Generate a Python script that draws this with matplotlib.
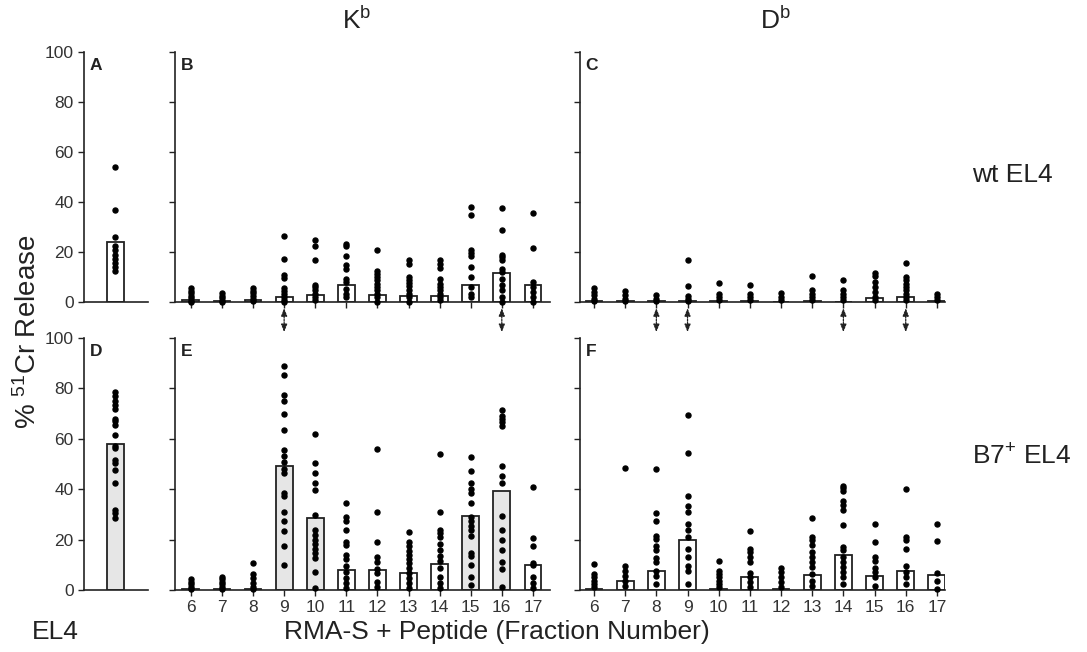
import matplotlib
matplotlib.use('Agg')
import matplotlib.pyplot as plt
import numpy as np

plt.rcParams['font.family'] = ['Liberation Sans', 'DejaVu Sans']
plt.rcParams['mathtext.fontset'] = 'custom'
plt.rcParams['mathtext.rm'] = 'Liberation Sans'
plt.rcParams['mathtext.it'] = 'Liberation Sans:italic'
plt.rcParams['mathtext.bf'] = 'Liberation Sans:bold'

# ---------------- data ----------------
fractions = [6, 7, 8, 9, 10, 11, 12, 13, 14, 15, 16, 17]
y_ticks = [0, 20, 40, 60, 80, 100]

# EL4 targets (single column panels)
a_bar = 24.0
a_points = [53.9, 36.9, 26.0, 22.3, 20.7, 19.0, 17.3, 15.6, 14.0, 12.4]
d_bar = 58.0
d_points = [78.4, 76.8, 75.0, 73.4, 72.0, 68.0, 67.0, 65.3, 61.4, 57.0, 56.4,
            51.5, 50.5, 47.5, 42.5, 31.9, 30.5, 28.5]

# wt EL4, Kb fractions
b_bars = [1.0, 0.5, 1.0, 2.0, 3.0, 6.7, 3.0, 2.4, 2.4, 7.0, 11.6, 7.0]
b_points = [
    [5.6, 4.6, 3.6, 2.6, 1.6, 0.6, 0.0],
    [3.6, 2.6, 1.6, 0.6, 0.0],
    [5.6, 4.6, 3.6, 2.4, 1.4, 0.4],
    [26.3, 17.3, 10.7, 9.7, 5.6, 4.6, 3.3, 2.0, 0.7, 0.0],
    [25.0, 22.3, 17.0, 7.0, 6.0, 4.7, 3.3, 2.0, 0.7],
    [23.3, 22.3, 18.3, 15.0, 13.3, 9.3, 8.0, 5.3, 3.3, 2.0],
    [20.7, 12.4, 11.3, 10.0, 8.7, 7.3, 6.0, 4.7, 3.3, 2.0, 0.0],
    [17.0, 15.3, 10.0, 9.0, 7.6, 6.3, 5.0, 3.3, 2.0, 0.0],
    [17.0, 15.3, 13.8, 9.3, 7.3, 6.0, 4.7, 3.3, 2.0, 0.7],
    [38.0, 34.7, 20.7, 19.6, 18.3, 14.0, 10.0, 6.0, 3.3, 2.0],
    [37.6, 28.7, 18.7, 18.0, 17.0, 13.3, 12.0, 9.3, 6.7, 4.7, 2.0, 0.0],
    [35.6, 21.7, 8.0, 6.0, 4.0, 2.0, 0.0],
]

# wt EL4, Db fractions
c_bars = [0.5, 0.4, 0.3, 0.3, 0.3, 0.3, 0.2, 0.3, 0.2, 1.6, 1.9, 0.3]
c_points = [
    [5.7, 4.0, 2.7, 1.3, 0.3],
    [4.3, 2.7, 1.3, 0.3],
    [2.7, 1.3, 0.3],
    [16.7, 6.3, 2.3, 1.3, 0.3],
    [7.6, 3.3, 2.0, 0.7],
    [6.7, 3.3, 2.0, 0.7],
    [3.7, 2.0, 0.7],
    [10.4, 4.7, 3.3, 2.0, 0.7],
    [9.0, 4.7, 3.3, 2.0, 0.7],
    [11.6, 10.4, 8.0, 6.0, 4.0, 2.0, 0.7],
    [15.6, 10.0, 8.7, 7.3, 6.0, 4.7, 3.3, 2.0, 0.7],
    [3.3, 2.0, 0.7],
]

# B7+ EL4, Kb fractions
e_bars = [0.4, 0.4, 0.4, 49.2, 28.6, 8.0, 8.0, 6.6, 10.4, 29.5, 39.2, 10.0]
e_points = [
    [4.3, 3.3, 2.3, 1.3, 0.3],
    [5.3, 4.3, 3.3, 2.3, 1.3, 0.3],
    [10.9, 6.4, 4.7, 2.7, 1.3, 0.3],
    [89.0, 85.5, 77.4, 75.1, 69.8, 63.4, 55.5, 53.2, 50.8, 47.9, 46.5, 38.6,
     37.2, 31.1, 27.4, 23.5, 17.3, 10.0],
    [61.8, 50.5, 46.5, 42.5, 39.6, 29.9, 23.7, 21.9, 19.9, 18.4, 16.2, 14.6,
     12.6, 7.3, 0.7],
    [34.6, 28.9, 27.4, 23.7, 18.9, 18.0, 14.0, 12.2, 9.6, 7.3, 4.7, 2.7, 0.7],
    [55.9, 30.9, 18.9, 13.0, 11.3, 8.2, 6.6, 3.3, 1.3],
    [22.9, 18.9, 17.3, 15.6, 14.0, 12.2, 10.6, 8.6, 6.6, 4.7, 2.7, 0.7],
    [54.1, 30.9, 23.7, 22.6, 21.0, 18.4, 16.0, 13.6, 11.7, 8.6, 5.3, 2.7, 0.7],
    [52.8, 47.1, 42.3, 39.9, 38.3, 34.6, 28.9, 27.4, 25.5, 23.7, 21.3, 14.6,
     13.6, 10.0, 5.3, 2.0],
    [71.5, 69.1, 67.8, 66.5, 65.2, 49.2, 45.2, 42.3, 29.5, 23.7, 19.9, 16.0,
     11.3, 8.2, 1.3],
    [40.8, 20.6, 17.3, 10.9, 10.0, 5.3, 2.7, 0.7],
]

# B7+ EL4, Db fractions
f_bars = [0.5, 3.7, 7.7, 20.0, 0.5, 5.0, 0.3, 6.1, 14.0, 5.7, 7.4, 6.0]
f_points = [
    [10.4, 6.4, 5.0, 3.7, 2.4, 1.1],
    [48.6, 9.7, 7.7, 5.7, 3.7, 1.7],
    [47.9, 30.5, 27.4, 21.6, 20.3, 17.3, 15.7, 12.7, 11.0, 7.7, 5.7, 2.4],
    [69.5, 54.2, 37.5, 33.2, 30.9, 26.0, 24.0, 20.9, 16.3, 13.0, 9.7, 7.7, 2.4],
    [11.7, 7.7, 6.4, 5.0, 3.7, 2.4, 1.1],
    [23.4, 16.3, 15.0, 13.0, 11.0, 6.6, 5.0, 3.1, 1.1],
    [8.8, 7.0, 5.0, 3.1, 1.1],
    [28.7, 21.2, 19.7, 17.7, 15.0, 13.0, 11.0, 9.0, 6.4, 3.7, 1.7],
    [41.2, 40.6, 39.3, 35.3, 33.6, 31.6, 25.6, 17.0, 15.7, 13.0, 11.0, 9.0,
     7.0, 5.0, 2.4],
    [26.0, 19.0, 13.0, 11.7, 8.8, 7.0, 5.0, 1.7],
    [40.2, 21.2, 19.7, 16.3, 9.7, 7.0, 5.0, 2.4],
    [26.3, 19.4, 6.6, 3.7, 0.4],
]

# fractions whose bars are stippled in the B7+ / Kb panel
e_shaded = [9, 10, 15, 16]
# fractions marked with arrows between the two rows
b_arrows = [9, 16]
c_arrows = [8, 9, 14, 16]

# ---------------- drawing ----------------
W, H = 1087, 652
fig = plt.figure(figsize=(W / 100, H / 100), dpi=100)
fig.patch.set_facecolor('white')

INK = '#222222'
SHADE = '#e6e6e6'


def px_rect(x0, x1, y_top, y_bot):
    return [x0 / W, 1 - y_bot / H, (x1 - x0) / W, (y_bot - y_top) / H]


def style_axes(ax, show_ylabels):
    for side in ('top', 'right'):
        ax.spines[side].set_visible(False)
    for side in ('left', 'bottom'):
        ax.spines[side].set_color(INK)
        ax.spines[side].set_linewidth(1.2)
    ax.set_ylim(0, 100)
    ax.set_yticks(y_ticks)
    ax.tick_params(axis='both', direction='out', length=4.5, width=1.0,
                   color=INK, labelcolor='#333333', labelsize=12.5, pad=3)
    if not show_ylabels:
        ax.set_yticklabels([])


def panel_letter(ax, letter):
    ax.annotate(letter, xy=(0, 1), xycoords='axes fraction',
                xytext=(4, -4), textcoords='offset points',
                ha='left', va='top', fontsize=12.5, fontweight='bold',
                color=INK)


def single_panel(rect, bar, points, shaded, letter):
    ax = fig.add_axes(rect)
    style_axes(ax, True)
    ax.set_xlim(0, 1)
    ax.set_xticks([])
    ax.bar([0.49], [bar], width=0.27, color=SHADE if shaded else 'white',
           edgecolor=INK, linewidth=1.3, zorder=2)
    ax.plot(np.full(len(points), 0.49), points, 'o', ms=3.6, color='black',
            zorder=3, clip_on=False)
    panel_letter(ax, letter)
    return ax


def fraction_panel(rect, xlim, bars, points, shaded, letter, show_xlabels):
    ax = fig.add_axes(rect)
    style_axes(ax, False)
    ax.set_xlim(*xlim)
    ax.set_xticks(fractions)
    if not show_xlabels:
        ax.set_xticklabels([])
    colors = [SHADE if f in shaded else 'white' for f in fractions]
    ax.bar(fractions, bars, width=0.54, color=colors, edgecolor=INK,
           linewidth=1.3, zorder=2)
    for f, vals in zip(fractions, points):
        ax.plot(np.full(len(vals), f), vals, 'o', ms=3.6, color='black',
                zorder=3, clip_on=False)
    panel_letter(ax, letter)
    return ax


def add_arrows(ax, marks):
    for f in marks:
        ax.annotate('', xy=(f, -0.12), xytext=(f, -0.025),
                    xycoords=('data', 'axes fraction'),
                    textcoords=('data', 'axes fraction'),
                    annotation_clip=False,
                    arrowprops=dict(arrowstyle='<|-|>,head_length=0.45,head_width=0.18',
                                    lw=0.9, ls=(0, (1.5, 1.0)), color=INK,
                                    shrinkA=0, shrinkB=0))


TOP = (52, 302)
BOT = (338, 590)
ax_a = single_panel(px_rect(84, 148, *TOP), a_bar, a_points, False, 'A')
ax_d = single_panel(px_rect(84, 148, *BOT), d_bar, d_points, True, 'D')

ax_b = fraction_panel(px_rect(175, 550, *TOP), (5.49, 17.55), b_bars, b_points,
                      [], 'B', False)
ax_c = fraction_panel(px_rect(580, 945, *TOP), (5.55, 17.26), c_bars, c_points,
                      [], 'C', False)
ax_e = fraction_panel(px_rect(175, 550, *BOT), (5.49, 17.55), e_bars, e_points,
                      e_shaded, 'E', True)
ax_f = fraction_panel(px_rect(580, 945, *BOT), (5.55, 17.26), f_bars, f_points,
                      [], 'F', True)

add_arrows(ax_b, b_arrows)
add_arrows(ax_c, c_arrows)

# column titles, row labels and axis labels
big = 19
fig.text(357 / W, 1 - 20 / H, r'K$^{\mathrm{b}}$', ha='center', va='center',
         fontsize=big, color=INK)
fig.text(775 / W, 1 - 20 / H, r'D$^{\mathrm{b}}$', ha='center', va='center',
         fontsize=big, color=INK)
fig.text(972 / W, 1 - 175 / H, 'wt EL4', ha='left', va='center',
         fontsize=big, color=INK)
fig.text(972 / W, 1 - 457 / H, r'B7$^{+}$ EL4', ha='left', va='center',
         fontsize=big, color=INK)
fig.text(28 / W, 1 - 332 / H, r'% $^{51}$Cr Release', ha='center',
         va='center', rotation=90, fontsize=20, color=INK)
fig.text(55 / W, 1 - 632 / H, 'EL4', ha='center', va='center',
         fontsize=big, color=INK)
fig.text(497 / W, 1 - 632 / H, 'RMA-S + Peptide (Fraction Number)',
         ha='center', va='center', fontsize=big, color=INK)

fig.savefig('out.png', dpi=100, facecolor='white')
